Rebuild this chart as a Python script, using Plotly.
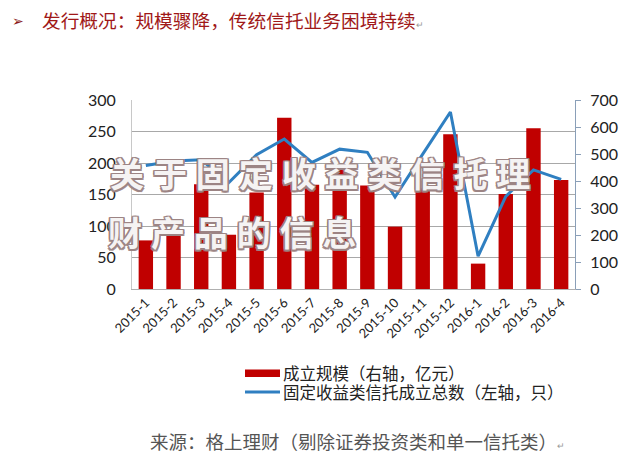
import plotly.graph_objects as go

months = ["2015-1", "2015-2", "2015-3", "2015-4", "2015-5", "2015-6", "2015-7", "2015-8",
          "2015-9", "2015-10", "2015-11", "2015-12", "2016-1", "2016-2", "2016-3", "2016-4"]
scale_bn = [180, 213, 388, 201, 357, 634, 386, 451, 383, 231, 373, 573, 94, 352, 595, 404]
count_fixed = [196, 203, 205, 169, 213, 238, 201, 222, 217, 146, 214, 281, 52, 147, 189, 174]

bar_name = "成立规模（右轴，亿元）"
line_name = "固定收益类信托成立总数（左轴，只）"
title_text = "发行概况：规模骤降，传统信托业务困境持续"
source_text = "来源：格上理财（剔除证券投资类和单一信托类）"
wm1 = "关于固定收益类信托理"
wm2 = "财产品的信息"

BAR_C = "#c00000"
LINE_C = "#2f7fc1"
CJK = "Noto Sans CJK SC"
NUM = "Lato, Noto Sans CJK SC"
W, H = 636, 462


def px(x):
    return x / W


def py(y):
    return 1 - y / H


def spaced(s):
    return "\u2009\u200a".join(s)


wm_font = dict(family=CJK, size=34, weight=700, color="rgba(255,255,255,0.92)",
               shadow="-1.5px -1.5px 0 #9c8484, 1.5px -1.5px 0 #9c8484, -1.5px 1.5px 0 #9c8484, "
                      "1.5px 1.5px 0 #9c8484, 0 -1.5px 0 #9c8484, 0 1.5px 0 #9c8484, "
                      "-1.5px 0 0 #9c8484, 1.5px 0 0 #9c8484")

fig = go.Figure()
fig.add_trace(go.Bar(x=months, y=scale_bn, name=bar_name, marker_color=BAR_C,
                     marker_line_width=0, width=0.52, yaxis="y", showlegend=False))
fig.add_trace(go.Scatter(x=months, y=count_fixed, name=line_name, mode="lines",
                         line=dict(color=LINE_C, width=3), yaxis="y2", showlegend=False))

fig.update_layout(
    width=W, height=H,
    margin=dict(l=0, r=0, t=0, b=0, autoexpand=False),
    paper_bgcolor="white", plot_bgcolor="white",
    showlegend=False,
    xaxis=dict(domain=[px(132), px(575)], type="category", tickangle=-45,
               tickfont=dict(family=NUM, size=13, color="#222"),
               showline=True, linecolor="#b0b0b0", linewidth=1, ticks="",
               showgrid=False, automargin=False),
    yaxis=dict(domain=[py(289), py(100)], side="right", range=[0, 700], dtick=100,
               tickfont=dict(family=NUM, size=16, color="#222"),
               showgrid=False, zeroline=False, showline=True, linecolor="#8a9fb8",
               linewidth=1, ticks="outside", ticklen=5, tickcolor="#8a9fb8",
               ticklabelstandoff=6, automargin=False),
    yaxis2=dict(overlaying="y", side="left", range=[0, 300], dtick=50,
                tickfont=dict(family=NUM, size=16, color="#222"),
                showgrid=True, gridcolor="#a8a8a8", gridwidth=1, zeroline=False,
                showline=True, linecolor="#c8c8c8", linewidth=1, ticks="",
                ticklabelstandoff=12, automargin=False),
    shapes=[
        dict(type="rect", xref="paper", yref="paper", x0=px(245), x1=px(280),
             y0=py(377), y1=py(369.5), fillcolor=BAR_C, line_width=0),
        dict(type="line", xref="paper", yref="paper", x0=px(245), x1=px(280),
             y0=py(392), y1=py(392), line=dict(color=LINE_C, width=3)),
    ],
    annotations=[
        dict(text="➢", x=px(10), y=py(21), xref="paper", yref="paper",
             xanchor="left", yanchor="middle", showarrow=False,
             font=dict(family="DejaVu Sans", size=14, color="#8b1a1a")),
        dict(text=title_text + "<span style='font-size:9px;color:#999'>↵</span>",
             x=px(40), y=py(20), xref="paper", yref="paper",
             xanchor="left", yanchor="middle", showarrow=False,
             font=dict(family=CJK, size=18.7, color="#a01818")),
        dict(text=bar_name, x=px(281), y=py(373), xref="paper", yref="paper",
             xanchor="left", yanchor="middle", showarrow=False,
             font=dict(family=CJK, size=16.5, color="#222")),
        dict(text=line_name, x=px(281), y=py(392), xref="paper", yref="paper",
             xanchor="left", yanchor="middle", showarrow=False,
             font=dict(family=CJK, size=16.5, color="#222")),
        dict(text=source_text + "<span style='font-size:9px;color:#999'>↵</span>",
             x=px(148), y=py(441), xref="paper", yref="paper",
             xanchor="left", yanchor="middle", showarrow=False,
             font=dict(family=CJK, size=18.5, color="#555555")),
        dict(text=spaced(wm1), x=px(320), y=py(173), xref="paper", yref="paper",
             xanchor="center", yanchor="middle", showarrow=False, font=wm_font),
        dict(text=spaced(wm2), x=px(233), y=py(231), xref="paper", yref="paper",
             xanchor="center", yanchor="middle", showarrow=False, font=wm_font),
    ],
)

fig.write_html("out.html", config={"displayModeBar": False},
               post_script="document.body.style.margin='0px';"
                           "document.body.style.padding='0px';"
                           "document.body.style.overflow='hidden';")
